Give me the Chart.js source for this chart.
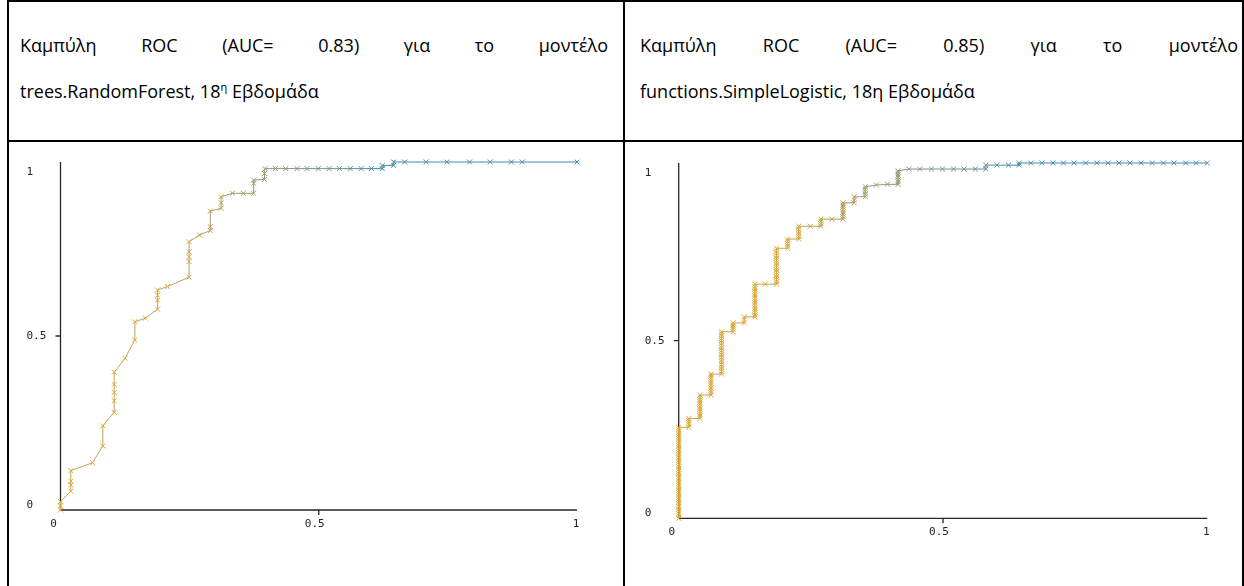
<!DOCTYPE html>
<html>
<head>
<meta charset="utf-8">
<script src="https://cdn.jsdelivr.net/npm/chart.js@4.4.1/dist/chart.umd.min.js"></script>
<style>
  html, body { margin: 0; padding: 0; background: #fff; width: 1244px; height: 586px; overflow: hidden; }
  .rule { position: absolute; background: #000; }
  .cap { position: absolute; font-family: "Open Sans", "Noto Sans", sans-serif; font-size: 18px; color: #000; line-height: 46px; }
  .just { text-align: justify; text-align-last: justify; }
  .sup { font-size: 11px; position: relative; top: -7px; }
  .box { position: absolute; }
</style>
</head>
<body>
<div class="rule" style="left:7px;top:0;width:1237px;height:2px"></div>
<div class="rule" style="left:7px;top:0;width:2px;height:586px"></div>
<div class="rule" style="left:623px;top:0;width:2px;height:586px"></div>
<div class="rule" style="left:1242px;top:0;width:2px;height:586px"></div>
<div class="rule" style="left:7px;top:140px;width:1237px;height:2px"></div>

<div class="cap" style="left:20px;top:22px;width:588px">
  <div class="just">Καμπύλη ROC (AUC= 0.83) για το μοντέλο</div>
  <div>trees.RandomForest, 18<span class="sup">η</span> Εβδομάδα</div>
</div>
<div class="cap" style="left:640px;top:22px;width:598px">
  <div class="just">Καμπύλη ROC (AUC= 0.85) για το μοντέλο</div>
  <div>functions.SimpleLogistic, 18η Εβδομάδα</div>
</div>

<div class="box" style="left:9px;top:142px;width:614px;height:444px"><canvas id="roc-rf"></canvas></div>
<div class="box" style="left:627px;top:142px;width:615px;height:444px"><canvas id="roc-sl"></canvas></div>

<script>
// axis ticks
const TICK_VALUES = [0, 0.5, 1];
const TICK_LABELS = ['0', '0.5', '1'];

// trees.RandomForest: false positive rate / true positive rate
const rfFpr = [
  0, 0, 0,
  0.020, 0.020, 0.020, 0.020,
  0.062,
  0.082, 0.082,
  0.104, 0.104, 0.104, 0.104, 0.104,
  0.125,
  0.144, 0.144,
  0.164,
  0.188, 0.188, 0.188, 0.188,
  0.207,
  0.249, 0.249, 0.249, 0.249, 0.249,
  0.269,
  0.290, 0.290, 0.290,
  0.311, 0.311, 0.311,
  0.333, 0.354,
  0.374, 0.374, 0.374,
  0.395, 0.395,
  0.396, 0.416, 0.436, 0.458, 0.477, 0.499, 0.520, 0.540, 0.561, 0.582, 0.602, 0.623,
  0.623, 0.645,
  0.645, 0.666, 0.708, 0.748, 0.792, 0.832, 0.873, 0.894, 1.0
];
const rfTpr = [
  0, 0.012, 0.024,
  0.054, 0.072, 0.083, 0.113,
  0.136,
  0.184, 0.242,
  0.281, 0.314, 0.338, 0.361, 0.396,
  0.436,
  0.489, 0.541,
  0.551,
  0.577, 0.603, 0.617, 0.632,
  0.642,
  0.669, 0.714, 0.728, 0.742, 0.771,
  0.790,
  0.803, 0.814, 0.859,
  0.867, 0.883, 0.900,
  0.910, 0.910,
  0.910, 0.939, 0.948,
  0.950, 0.967,
  0.981, 0.981, 0.981, 0.981, 0.981, 0.981, 0.981, 0.981, 0.981, 0.981, 0.981, 0.981,
  0.990, 0.990,
  1, 1, 1, 1, 1, 1, 1, 1, 1
];

// functions.SimpleLogistic
const slFpr = [
  0, 0, 0, 0, 0, 0, 0, 0, 0, 0,
  0, 0, 0, 0, 0, 0, 0, 0, 0, 0,
  0, 0, 0, 0, 0, 0, 0, 0, 0, 0,
  0, 0, 0, 0, 0, 0, 0, 0, 0, 0,
  0.019, 0.019, 0.019, 0.019, 0.019,
  0.040, 0.040, 0.040, 0.040, 0.040, 0.040, 0.040, 0.040, 0.040, 0.040, 0.040,
  0.061, 0.061, 0.061, 0.061, 0.061, 0.061, 0.061, 0.061, 0.061, 0.061,
  0.081, 0.081, 0.081, 0.081, 0.081, 0.081, 0.081, 0.081, 0.081, 0.081,
  0.081, 0.081, 0.081, 0.081, 0.081, 0.081, 0.081, 0.081, 0.081,
  0.103, 0.103, 0.103, 0.103, 0.103,
  0.124, 0.124, 0.124,
  0.144, 0.144, 0.144, 0.144, 0.144, 0.144, 0.144, 0.144, 0.144, 0.144, 0.144, 0.144, 0.144, 0.144, 0.144,
  0.164,
  0.185, 0.185, 0.185, 0.185, 0.185, 0.185, 0.185, 0.185, 0.185, 0.185, 0.185, 0.185, 0.185, 0.185, 0.185, 0.185,
  0.206, 0.206, 0.206, 0.206, 0.206,
  0.227, 0.227, 0.227, 0.227, 0.227, 0.227,
  0.249,
  0.269, 0.269, 0.269, 0.269,
  0.290,
  0.311, 0.311, 0.311, 0.311, 0.311, 0.311, 0.311, 0.311,
  0.332, 0.332, 0.332,
  0.353, 0.353, 0.353, 0.353, 0.353,
  0.374, 0.395,
  0.415, 0.415, 0.415, 0.415, 0.415, 0.415, 0.415,
  0.436, 0.456, 0.478, 0.499, 0.520, 0.540, 0.561, 0.581,
  0.581, 0.602, 0.624, 0.644,
  0.644, 0.666, 0.687, 0.708, 0.728, 0.748, 0.770, 0.791, 0.812,
  0.833, 0.854, 0.875, 0.896, 0.917, 0.937, 0.959, 0.979, 1.0
];
const slTpr = [
  0, 0.007, 0.013, 0.020, 0.026, 0.033, 0.040, 0.046, 0.053, 0.059,
  0.066, 0.072, 0.079, 0.086, 0.092, 0.099, 0.105, 0.112, 0.118, 0.125,
  0.132, 0.138, 0.145, 0.151, 0.158, 0.164, 0.171, 0.178, 0.184, 0.191,
  0.197, 0.204, 0.210, 0.217, 0.224, 0.230, 0.237, 0.243, 0.250, 0.256,
  0.256, 0.263, 0.270, 0.276, 0.281,
  0.281, 0.288, 0.294, 0.301, 0.308, 0.314, 0.321, 0.327, 0.334, 0.340, 0.347,
  0.347, 0.354, 0.360, 0.367, 0.374, 0.380, 0.387, 0.394, 0.400, 0.406,
  0.406, 0.413, 0.420, 0.426, 0.433, 0.440, 0.446, 0.453, 0.460, 0.466,
  0.473, 0.480, 0.486, 0.493, 0.500, 0.506, 0.513, 0.519, 0.525,
  0.525, 0.532, 0.538, 0.544, 0.550,
  0.550, 0.558, 0.567,
  0.567, 0.572, 0.579, 0.586, 0.592, 0.599, 0.606, 0.612, 0.619, 0.626, 0.632, 0.639, 0.646, 0.652, 0.659,
  0.659,
  0.659, 0.666, 0.672, 0.679, 0.686, 0.692, 0.699, 0.706, 0.712, 0.719, 0.726, 0.732, 0.739, 0.746, 0.752, 0.760,
  0.760, 0.766, 0.773, 0.780, 0.786,
  0.786, 0.793, 0.800, 0.806, 0.813, 0.822,
  0.822,
  0.822, 0.829, 0.836, 0.842,
  0.842,
  0.842, 0.849, 0.856, 0.862, 0.869, 0.876, 0.882, 0.888,
  0.888, 0.895, 0.905,
  0.905, 0.912, 0.919, 0.926, 0.933,
  0.938, 0.940,
  0.940, 0.947, 0.953, 0.960, 0.966, 0.973, 0.978,
  0.983, 0.983, 0.983, 0.983, 0.983, 0.983, 0.983, 0.983,
  0.994, 0.994, 0.994, 0.994,
  1, 1, 1, 1, 1, 1, 1, 1, 1,
  1, 1, 1, 1, 1, 1, 1, 1, 1
];

// orange -> blue along the curve, like Weka's threshold colouring
const MARK_A = [222, 168, 50], MARK_B = [70, 142, 180];
const LINE_A = [192, 165, 96], LINE_B = [72, 136, 168];

function mix(a, b, x) {
  const t = Math.min(1, Math.max(0, (x - 0.2) / 0.45));
  const c = a.map((v, i) => Math.round(v + (b[i] - v) * t));
  return `rgb(${c[0]},${c[1]},${c[2]})`;
}

const axesPlugin = {
  id: 'wekaAxes',
  beforeDatasetsDraw(chart) {
    const {ctx, chartArea: a, scales: {x, y}} = chart;
    ctx.save();
    ctx.strokeStyle = '#262626';
    ctx.lineWidth = 1.3;
    ctx.beginPath();
    ctx.moveTo(a.left, a.top);
    ctx.lineTo(a.left, a.bottom);
    ctx.lineTo(a.right, a.bottom);
    // tick marks at 0.5
    ctx.moveTo(a.left - 5, y.getPixelForValue(0.5));
    ctx.lineTo(a.left, y.getPixelForValue(0.5));
    ctx.moveTo(x.getPixelForValue(0.5), a.bottom);
    ctx.lineTo(x.getPixelForValue(0.5), a.bottom + 5);
    ctx.stroke();

    ctx.fillStyle = '#222';
    ctx.font = '11px "DejaVu Sans Mono", monospace';
    ctx.textBaseline = 'middle';
    const yShift = [-5, 0, 10];
    const xShift = [-7, -4, -1];
    TICK_VALUES.forEach((v, i) => {
      ctx.textAlign = 'left';
      ctx.fillText(TICK_LABELS[i], a.left - 34, y.getPixelForValue(v) + yShift[i]);
      ctx.textAlign = 'center';
      ctx.fillText(TICK_LABELS[i], x.getPixelForValue(v) + xShift[i], a.bottom + 14);
    });
    ctx.restore();
  }
};

function drawRoc(id, fpr, tpr, pad) {
  const pts = fpr.map((v, i) => ({x: v, y: tpr[i]}));
  return new Chart(document.getElementById(id), {
    type: 'line',
    data: {
      datasets: [{
        data: pts,
        clip: false,
        tension: 0,
        borderWidth: 1,
        borderColor: mix(LINE_A, LINE_B, 0),
        segment: {
          borderColor: (c) => mix(LINE_A, LINE_B, (pts[c.p0DataIndex].x + pts[c.p1DataIndex].x) / 2),
        },
        pointStyle: 'crossRot',
        pointRadius: 3.5,
        pointBorderWidth: 1,
        pointBackgroundColor: 'rgba(0,0,0,0)',
        pointBorderColor: (c) => c.raw ? mix(MARK_A, MARK_B, c.raw.x) : mix(MARK_A, MARK_B, 0),
      }],
    },
    options: {
      responsive: true, maintainAspectRatio: false, animation: false,
      layout: {padding: pad},
      plugins: {legend: {display: false}, tooltip: {enabled: false}},
      scales: {
        x: {type: 'linear', min: 0, max: 1, display: false},
        y: {type: 'linear', min: 0, max: 1, display: false},
      },
    },
    plugins: [axesPlugin],
  });
}

drawRoc('roc-rf', rfFpr, rfTpr, {left: 51.5, right: 46, top: 20, bottom: 76});
drawRoc('roc-sl', slFpr, slTpr, {left: 51.7, right: 34.7, top: 21, bottom: 67.7});
</script>
</body>
</html>
